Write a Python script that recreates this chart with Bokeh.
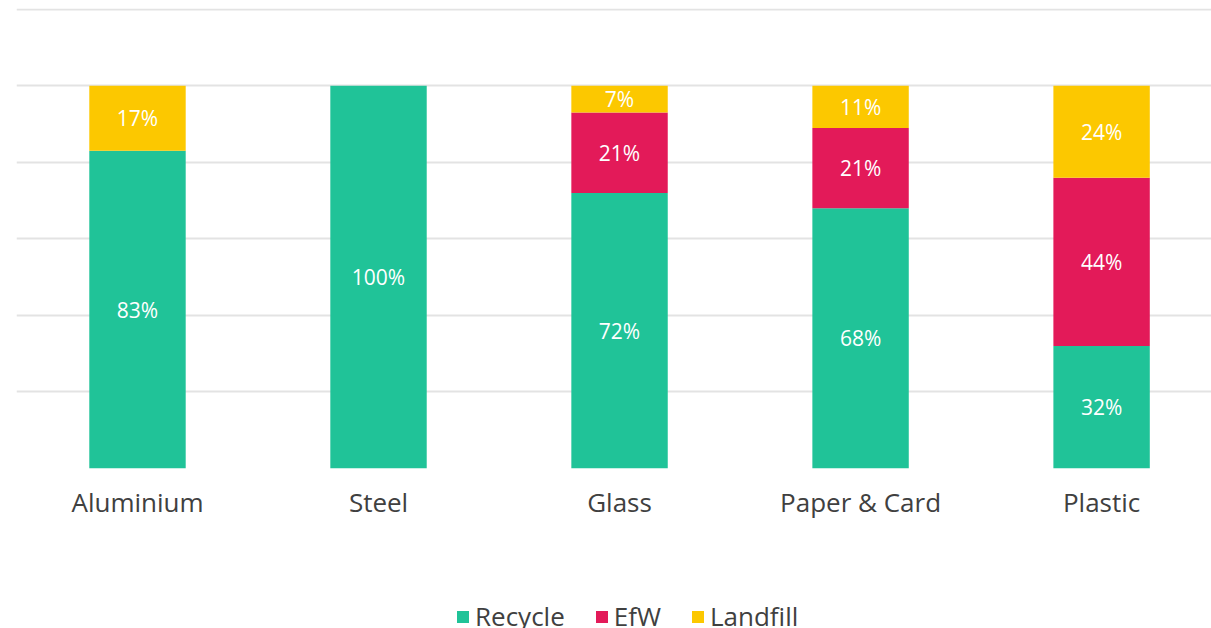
from bokeh.plotting import figure
from bokeh.layouts import column
from bokeh.models import Range1d, FixedTicker, ColumnDataSource, Legend, LegendItem
from bokeh.core.properties import value
from bokeh.embed import file_html
from bokeh.resources import INLINE

categories = ["Aluminium", "Steel", "Glass", "Paper & Card", "Plastic"]
recycle = [83, 100, 72, 68, 32]
efw = [0, 0, 21, 21, 44]
landfill = [17, 0, 7, 11, 24]
series_names = ["Recycle", "EfW", "Landfill"]
colors = ["#20C398", "#E31A59", "#FCC800"]
y_ticks = [0, 20, 40, 60, 80, 100, 120]

FONT = "Open Sans"
TEXT_COLOR = "#404040"
xs = list(range(len(categories)))
data = {"x": xs, "Recycle": recycle, "EfW": efw, "Landfill": landfill}
src = ColumnDataSource(data)

# main chart
p = figure(width=1211, height=528, output_backend="svg", toolbar_location=None,
           x_range=Range1d(-0.502, 4.456), y_range=Range1d(0, 120.2),
           min_border_left=16, min_border_right=0, min_border_top=8, min_border_bottom=60,
           outline_line_color=None)

p.vbar_stack(series_names, x="x", width=0.4, source=src, color=colors, line_width=0)

# value labels centred in each segment
series_vals = [recycle, efw, landfill]
bottoms = [0] * len(categories)
for vals in series_vals:
    lx, ly, lt = [], [], []
    for i, v in enumerate(vals):
        if v > 0:
            lx.append(xs[i]); ly.append(bottoms[i] + v / 2); lt.append(f"{v}%")
        bottoms[i] += v
    lsrc = ColumnDataSource(dict(x=lx, y=ly, t=lt))
    p.text(x="x", y="y", text="t", source=lsrc, text_color="white", text_align="center",
           text_baseline="middle", text_font=value(FONT), text_font_size="21px")

p.xaxis.ticker = FixedTicker(ticks=xs)
p.xaxis.major_label_overrides = {i: c for i, c in enumerate(categories)}
p.xaxis.axis_line_color = None
p.xaxis.major_tick_line_color = None
p.xaxis.minor_tick_line_color = None
p.xaxis.major_label_text_font = FONT
p.xaxis.major_label_text_font_size = "26px"
p.xaxis.major_label_text_color = TEXT_COLOR
p.xaxis.major_label_standoff = 9

p.yaxis.visible = False
p.xgrid.grid_line_color = None
p.ygrid.ticker = FixedTicker(ticks=y_ticks)
p.ygrid.grid_line_color = "#E3E3E3"
p.ygrid.grid_line_width = 2

# legend strip: hidden copies of the bar renderers only feed the legend
lg = figure(width=1211, height=100, output_backend="svg", toolbar_location=None,
            x_range=Range1d(-0.502, 4.456), y_range=Range1d(0, 120.2),
            min_border_left=0, min_border_right=0, min_border_top=0, min_border_bottom=0,
            outline_line_color=None, x_axis_location=None, y_axis_location=None)
lg.xgrid.visible = False
lg.ygrid.visible = False
lrends = lg.vbar_stack(series_names, x="x", width=0.4, source=src, color=colors, line_width=0)
for r in lrends:
    r.visible = False

legend = Legend(items=[LegendItem(label=n, renderers=[r]) for n, r in zip(series_names, lrends)],
                orientation="horizontal", location=(439, -6),
                label_text_font=FONT, label_text_font_size="26px", label_text_color=TEXT_COLOR,
                glyph_width=15, glyph_height=15, spacing=29, label_standoff=5,
                padding=0, margin=0, border_line_color=None, background_fill_alpha=0,
                inactive_fill_alpha=0)
lg.add_layout(legend, "center")

layout = column(p, lg, spacing=0)
open("out.html", "w").write(file_html(layout, INLINE))
